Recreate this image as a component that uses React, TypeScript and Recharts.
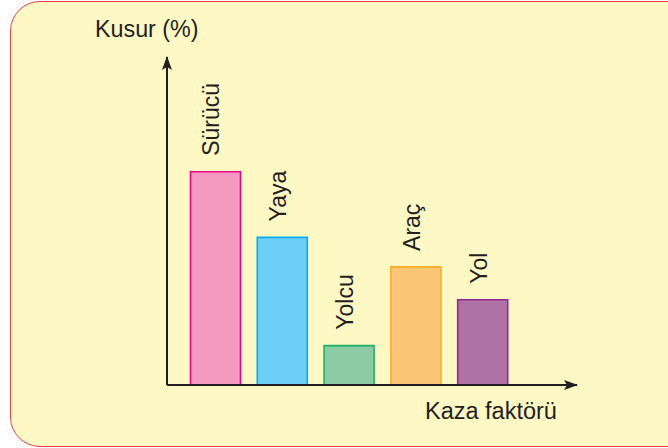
import React from 'react';
import { BarChart, Bar, XAxis, YAxis, Cell, LabelList } from 'recharts';

const categories = ['Sürücü', 'Yaya', 'Yolcu', 'Araç', 'Yol'];
const values = [65, 45, 12, 36, 26];
const fills = ['#f49ac1', '#6dcff6', '#8ccba3', '#fdc677', '#b072a4'];
const strokes = ['#ec008c', '#00aeef', '#1fb26b', '#fbad26', '#93278f'];

const data = categories.map((name, i) => ({ name, value: values[i] }));

const INK = '#231f20';
const FONT = '"Liberation Sans", Arial, Helvetica, sans-serif';

const RotatedLabel = (props: any) => {
  const { x, y, width, value } = props;
  const cx = Number(x) + Number(width) / 2 + 4;
  const ty = Number(y) - 16;
  return (
    <text
      x={cx}
      y={ty}
      transform={`rotate(-90, ${cx}, ${ty})`}
      textAnchor="start"
      fontSize={23}
      fontFamily={FONT}
      fill={INK}
    >
      {value}
    </text>
  );
};

export default function App() {
  return (
    <div
      style={{
        position: 'absolute',
        left: 0,
        top: 0,
        width: 668,
        height: 448,
        overflow: 'hidden',
        background: '#ffffff',
      }}
    >
      <svg width={0} height={0} style={{ position: 'absolute' }}>
        <defs>
          <marker
            id="arrowHead"
            viewBox="0 0 14 10"
            refX={13}
            refY={5}
            markerWidth={14}
            markerHeight={10}
            markerUnits="userSpaceOnUse"
            orient="auto-start-reverse"
          >
            <path d="M0,0 L14,5 L0,10 L3,5 z" fill={INK} />
          </marker>
        </defs>
      </svg>
      <div
        style={{
          position: 'absolute',
          left: 10,
          top: 1,
          width: 690,
          height: 444,
          border: '1.5px solid #ee3e48',
          borderRadius: 30,
          background: '#fef8c5',
        }}
      />
      <div style={{ position: 'absolute', left: 0, top: 0 }}>
        <BarChart
          width={668}
          height={448}
          data={data}
          margin={{ top: 57, left: 166, right: 91, bottom: 62 }}
        >
          <XAxis
            dataKey="name"
            height={1}
            tick={false}
            tickLine={false}
            padding={{ left: 15.5, right: 60.5 }}
            axisLine={{ stroke: INK, strokeWidth: 2, markerEnd: 'url(#arrowHead)' }}
          />
          <YAxis
            width={1}
            domain={[0, 100]}
            tick={false}
            tickLine={false}
            axisLine={{ stroke: INK, strokeWidth: 2, markerStart: 'url(#arrowHead)' }}
          />
          <Bar dataKey="value" barSize={50} isAnimationActive={false} strokeWidth={1.6}>
            {data.map((d, i) => (
              <Cell key={d.name} fill={fills[i]} stroke={strokes[i]} />
            ))}
            <LabelList dataKey="name" content={<RotatedLabel />} />
          </Bar>
        </BarChart>
      </div>
      <svg width={668} height={448} style={{ position: 'absolute', left: 0, top: 0, pointerEvents: 'none' }}>
        <text x={95} y={37} fontSize={23.3} fontFamily={FONT} fill={INK}>
          Kusur (%)
        </text>
        <text x={425} y={419} fontSize={23.5} fontFamily={FONT} fill={INK}>
          Kaza faktörü
        </text>
      </svg>
    </div>
  );
}
